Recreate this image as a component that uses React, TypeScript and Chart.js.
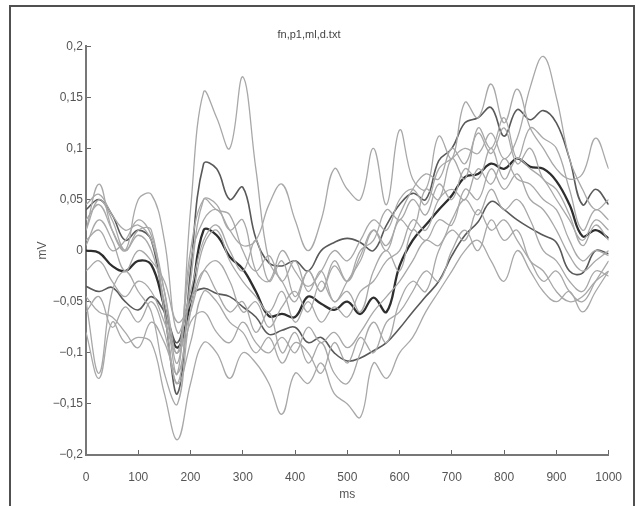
import React, { useEffect, useRef } from "react";
import { Chart, registerables } from "chart.js";

Chart.register(...registerables);

const TITLE = "fn,p1,ml,d.txt";
const X_LABEL = "ms";
const Y_LABEL = "mV";

const TIMES = [0, 25, 50, 75, 100, 125, 150, 175, 200, 225, 250, 275, 300, 325, 350, 375, 400, 425, 450, 475, 500, 525, 550, 575, 600, 625, 650, 675, 700, 725, 750, 775, 800, 825, 850, 875, 900, 925, 950, 975, 1000];

// light grey single trials
const G1 = [0.03, 0.045, 0.02, 0.0, 0.015, 0.0, -0.05, -0.12, 0.04, 0.155, 0.13, 0.1, 0.17, 0.08, -0.01, -0.03, -0.05, -0.02, -0.04, -0.01, -0.03, -0.005, 0.02, 0.0, 0.03, 0.02, 0.06, 0.05, 0.09, 0.07, 0.12, 0.1, 0.13, 0.09, 0.12, 0.11, 0.1, 0.06, 0.02, 0.04, 0.03];
const G2 = [0.01, 0.02, 0.0, 0.01, 0.03, 0.015, -0.04, -0.11, -0.01, 0.03, 0.04, 0.02, 0.005, 0.01, 0.045, 0.065, 0.03, 0.0, 0.03, 0.08, 0.06, 0.05, 0.1, 0.045, 0.118, 0.07, 0.06, 0.112, 0.09, 0.145, 0.13, 0.163, 0.125, 0.158, 0.12, 0.1, 0.08, 0.07, 0.075, 0.11, 0.08];
const G3 = [0.02, 0.05, 0.03, 0.0, 0.02, 0.02, -0.06, -0.13, -0.03, 0.05, 0.045, 0.02, 0.03, -0.02, -0.03, 0.0, -0.02, -0.035, -0.02, 0.0, -0.01, 0.01, 0.03, 0.02, 0.05, 0.06, 0.045, 0.08, 0.09, 0.1, 0.095, 0.115, 0.09, 0.11, 0.16, 0.19, 0.15, 0.09, 0.06, 0.04, 0.05];
const G4 = [-0.08, -0.125, -0.07, -0.09, -0.085, -0.09, -0.14, -0.185, -0.13, -0.09, -0.1, -0.125, -0.1, -0.11, -0.13, -0.16, -0.12, -0.13, -0.11, -0.14, -0.15, -0.163, -0.11, -0.125, -0.1, -0.085, -0.06, -0.04, -0.02, 0.0, 0.01, -0.01, -0.03, 0.0, -0.02, -0.04, -0.05, -0.04, -0.06, -0.04, -0.02];
const G5 = [-0.05, -0.12, -0.04, -0.02, -0.04, -0.06, -0.12, -0.15, -0.06, -0.02, -0.04, -0.06, -0.05, -0.08, -0.06, -0.1, -0.08, -0.11, -0.09, -0.12, -0.13, -0.1, -0.07, -0.09, -0.05, -0.03, -0.04, 0.0, 0.02, 0.01, 0.04, 0.02, 0.03, 0.01, -0.01, -0.03, -0.02, -0.04, -0.05, -0.03, -0.01];
const G6 = [-0.045, -0.06, -0.065, -0.08, -0.095, -0.07, -0.09, -0.12, -0.07, -0.06, -0.08, -0.09, -0.07, -0.09, -0.1, -0.085, -0.1, -0.075, -0.09, -0.08, -0.095, -0.08, -0.06, -0.045, -0.03, -0.01, 0.01, 0.005, 0.03, 0.05, 0.035, 0.06, 0.04, 0.05, 0.03, 0.0, -0.01, -0.03, -0.04, -0.02, -0.025];
const G7 = [0.02, 0.065, 0.02, 0.0, 0.05, 0.055, 0.01, -0.08, -0.04, 0.01, 0.025, 0.0, -0.02, 0.01, -0.03, -0.01, -0.045, -0.02, -0.04, -0.015, -0.03, 0.0, 0.01, 0.04, 0.03, 0.05, 0.035, 0.065, 0.05, 0.08, 0.07, 0.1, 0.07, 0.09, 0.08, 0.07, 0.05, 0.03, 0.01, 0.03, 0.02];
const G8 = [0.005, 0.03, 0.01, -0.02, 0.0, -0.01, -0.03, -0.07, -0.05, 0.005, 0.02, -0.01, -0.03, -0.045, -0.06, -0.04, -0.07, -0.05, -0.07, -0.055, -0.065, -0.04, -0.03, -0.01, 0.0, 0.03, 0.02, 0.05, 0.06, 0.05, 0.08, 0.065, 0.09, 0.07, 0.065, 0.05, 0.04, 0.01, -0.01, 0.0, -0.005];
const G9 = [-0.02, -0.01, -0.03, -0.045, -0.03, -0.04, -0.07, -0.1, -0.06, -0.02, -0.01, -0.03, -0.06, -0.05, -0.075, -0.055, -0.04, -0.06, -0.03, -0.05, -0.04, -0.06, -0.02, 0.0, -0.02, 0.02, 0.01, 0.03, 0.025, 0.06, 0.05, 0.08, 0.06, 0.075, 0.05, 0.04, 0.02, -0.005, -0.02, -0.01, 0.0];
const G10 = [0.045, 0.055, 0.035, 0.02, 0.025, 0.01, -0.04, -0.1, 0.0, 0.05, 0.04, 0.035, 0.0, -0.02, -0.005, -0.03, -0.01, -0.04, -0.02, -0.05, -0.03, -0.01, 0.02, 0.005, 0.035, 0.06, 0.075, 0.07, 0.1, 0.085, 0.115, 0.095, 0.12, 0.085, 0.1, 0.07, 0.06, 0.035, 0.005, 0.025, 0.01];
const G11 = [-0.06, -0.045, -0.075, -0.055, -0.07, -0.05, -0.08, -0.13, -0.09, -0.04, -0.05, -0.07, -0.08, -0.1, -0.085, -0.11, -0.09, -0.1, -0.12, -0.09, -0.11, -0.085, -0.1, -0.07, -0.06, -0.04, -0.02, -0.03, 0.0, 0.02, 0.0, 0.03, 0.01, 0.02, -0.01, -0.02, -0.04, -0.05, -0.045, -0.03, -0.02];

// darker traces
const D1 = [0.04, 0.05, 0.035, 0.01, 0.02, 0.01, -0.06, -0.14, -0.02, 0.085, 0.08, 0.05, 0.062, 0.012, -0.012, -0.015, -0.01, -0.02, 0.0, 0.008, 0.012, 0.008, 0.0, 0.025, 0.045, 0.056, 0.05, 0.088, 0.1, 0.125, 0.13, 0.14, 0.112, 0.138, 0.128, 0.137, 0.125, 0.09, 0.045, 0.06, 0.045];
const D2 = [-0.035, -0.04, -0.036, -0.05, -0.058, -0.045, -0.06, -0.09, -0.045, -0.037, -0.042, -0.045, -0.055, -0.065, -0.082, -0.078, -0.075, -0.09, -0.085, -0.1, -0.108, -0.105, -0.098, -0.09, -0.076, -0.06, -0.045, -0.03, -0.005, 0.015, 0.028, 0.048, 0.04, 0.03, 0.022, 0.015, 0.008, -0.02, -0.022, 0.0, -0.003];
// thick black average
const MEAN = [0.0, -0.002, -0.015, -0.02, -0.01, -0.014, -0.055, -0.095, -0.05, 0.02, 0.015, -0.006, -0.018, -0.04, -0.064, -0.062, -0.065, -0.045, -0.052, -0.058, -0.05, -0.062, -0.046, -0.06, -0.015, 0.01, 0.025, 0.04, 0.054, 0.072, 0.075, 0.085, 0.08, 0.09, 0.082, 0.08, 0.068, 0.045, 0.014, 0.02, 0.012];

const GREY_SERIES = [G1, G2, G3, G4, G5, G6, G7, G8, G9, G10, G11];
const DARK_SERIES = [D1, D2];

const X_TICKS = [0, 100, 200, 300, 400, 500, 600, 700, 800, 900, 1000];

const FONT = "'Liberation Sans', Arial, Helvetica, sans-serif";

function toPoints(values: number[]) {
  return values.map((v, i) => ({ x: TIMES[i], y: v }));
}

function fmtY(v: number) {
  const r = Math.round(v * 100) / 100;
  if (r === 0) return "0";
  const s = Math.abs(r).toString().replace(".", ",");
  return r < 0 ? "\u2212" + s : s;
}

export default function App() {
  const ref = useRef<HTMLCanvasElement | null>(null);

  useEffect(() => {
    if (!ref.current) return;
    const datasets: any[] = [];
    GREY_SERIES.forEach((s) => {
      datasets.push({
        data: toPoints(s),
        borderColor: "#a8a8a8",
        borderWidth: 1.3,
        pointRadius: 0,
        tension: 0.4,
        fill: false,
      });
    });
    DARK_SERIES.forEach((s) => {
      datasets.push({
        data: toPoints(s),
        borderColor: "#595959",
        borderWidth: 1.6,
        pointRadius: 0,
        tension: 0.4,
        fill: false,
      });
    });
    datasets.push({
      data: toPoints(MEAN),
      borderColor: "#2e2e2e",
      borderWidth: 2.3,
      pointRadius: 0,
      tension: 0.4,
      fill: false,
    });

    const chart = new Chart(ref.current, {
      type: "line",
      data: { datasets },
      options: {
        animation: false,
        responsive: false,
        layout: { padding: { left: 8, right: 32, top: 0, bottom: 0 } },
        plugins: {
          legend: { display: false },
          tooltip: { enabled: false },
          title: {
            display: true,
            text: TITLE,
            color: "#444",
            font: { family: FONT, size: 11, weight: "normal" },
            padding: { top: 28, bottom: 5 },
          },
        },
        scales: {
          x: {
            type: "linear",
            min: 0,
            max: 1000,
            afterFit: (s: any) => {
              s.height = 51;
            },
            afterBuildTicks: (s: any) => {
              s.ticks = X_TICKS.map((v) => ({ value: v }));
            },
            ticks: {
              color: "#555",
              font: { family: FONT, size: 12 },
              padding: 20,
              maxRotation: 0,
              autoSkip: false,
              callback: (v: any) => String(Math.round(Number(v))),
            },
            grid: {
              drawOnChartArea: false,
              drawTicks: true,
              tickLength: -5,
              color: "#666",
              lineWidth: 1,
            },
            border: { display: true, color: "#777", width: 2 },
            title: {
              display: true,
              text: X_LABEL,
              color: "#555",
              font: { family: FONT, size: 12 },
              padding: { top: 0, bottom: 4 },
            },
          },
          y: {
            type: "linear",
            min: -0.2,
            max: 0.2,
            afterFit: (s: any) => {
              s.width = 78;
            },
            ticks: {
              stepSize: 0.05,
              color: "#555",
              font: { family: FONT, size: 12 },
              padding: 8,
              callback: (v: any) => fmtY(Number(v)),
            },
            grid: {
              drawOnChartArea: false,
              drawTicks: true,
              tickLength: -5,
              color: "#666",
              lineWidth: 1,
            },
            border: { display: true, color: "#777", width: 2 },
            title: {
              display: true,
              text: Y_LABEL,
              color: "#555",
              font: { family: FONT, size: 12 },
              padding: { top: 27, bottom: 0 },
            },
          },
        },
      },
    });
    return () => chart.destroy();
  }, []);

  return (
    <div style={{ position: "absolute", left: 0, top: 0, width: 642, height: 506, background: "#fff", overflow: "hidden" }}>
      <div
        style={{
          position: "absolute",
          left: 9,
          top: 5,
          width: 626,
          height: 600,
          border: "2px solid #505050",
          boxSizing: "border-box",
        }}
      />
      <canvas ref={ref} width={642} height={506} style={{ position: "absolute", left: 0, top: 0 }} />
    </div>
  );
}
